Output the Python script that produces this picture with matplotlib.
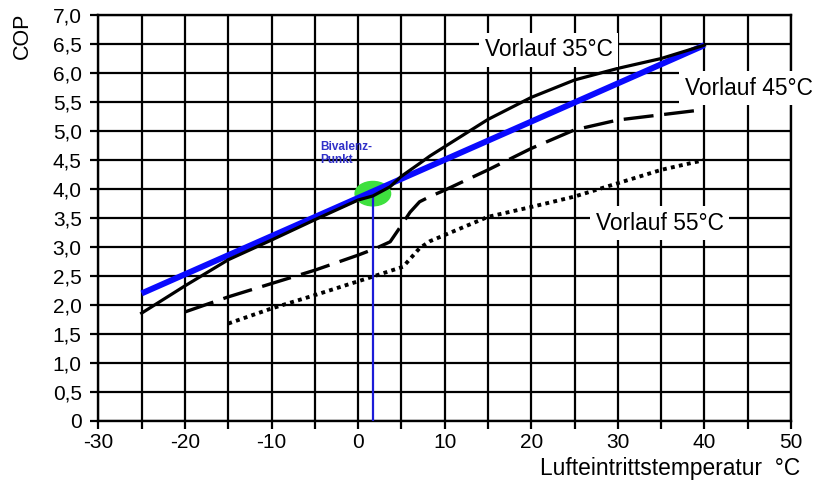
import numpy as np
import matplotlib
matplotlib.use("Agg")
import matplotlib.pyplot as plt
from matplotlib.patches import Ellipse
from matplotlib.ticker import MultipleLocator, FuncFormatter

plt.rcParams['font.family'] = ['Liberation Sans', 'DejaVu Sans']
plt.rcParams['axes.unicode_minus'] = False

# COP curves (air inlet temperature in degC)
t35 = [-25, -20, -15, -10, -5, 0, 1.7, 3.7, 5, 7, 8.3, 10, 15, 20, 25, 30, 35, 40]
cop35 = [1.86, 2.33, 2.78, 3.12, 3.47, 3.81, 3.88, 4.04, 4.22, 4.43, 4.57, 4.73,
         5.2, 5.58, 5.88, 6.08, 6.25, 6.48]

t45 = [-20, -15, -10, -5, 0, 2.1, 3.7, 4.8, 6, 7.1, 8.3, 10, 15, 20, 25, 30, 35, 40]
cop45 = [1.88, 2.14, 2.37, 2.6, 2.86, 2.98, 3.09, 3.33, 3.6, 3.78, 3.87, 3.98, 4.33,
         4.7, 5.02, 5.19, 5.28, 5.37]

t55 = [-15, -10, -5, 1.7, 5.2, 7.1, 8.3, 15, 20, 25, 30, 35, 40]
cop55 = [1.68, 1.94, 2.17, 2.49, 2.66, 2.98, 3.1, 3.52, 3.69, 3.87, 4.1, 4.33, 4.5]

# building heat demand line (blue) and bivalence point
demand_t = [-25, 40]
demand_cop = [2.2, 6.48]
biv_t, biv_cop = 1.7, 3.92

fig = plt.figure(figsize=(8.15, 4.83), dpi=100)
ax = fig.add_axes([0.1207, 0.1284, 0.8499, 0.8405])

ax.set_xlim(-30, 50)
ax.set_ylim(0, 7)
ax.xaxis.set_major_locator(MultipleLocator(10))
ax.xaxis.set_minor_locator(MultipleLocator(5))
ax.yaxis.set_major_locator(MultipleLocator(0.5))
ax.yaxis.set_major_formatter(FuncFormatter(
    lambda v, p: '0' if abs(v) < 1e-9 else ('%.1f' % v).replace('.', ',')))

ax.grid(which='both', color='black', linewidth=1.6)
ax.set_axisbelow(True)
for s in ax.spines.values():
    s.set_linewidth(1.7)
ax.tick_params(which='both', direction='out', length=6, width=1.6, labelsize=15)
ax.tick_params(axis='x', pad=3)
ax.tick_params(axis='y', pad=6)

# bivalence point marker
ax.add_patch(Ellipse((biv_t, biv_cop), 4.1, 0.42, color='#3ee03e', zorder=3))
ax.plot([biv_t, biv_t], [0, biv_cop - 0.05], color='#1c1cd8', lw=1.6, zorder=3)

ax.plot(demand_t, demand_cop, color='#0a0aff', lw=4.3, solid_capstyle='butt', zorder=4)

ax.plot(t35, cop35, color='black', lw=2.3, zorder=5)
ax.plot(t45, cop45, color='black', lw=2.4, dashes=(9, 3.2), zorder=5)
ax.plot(t55, cop55, color='black', lw=2.8, dashes=(1, 1.1), zorder=5)

box = dict(facecolor='white', edgecolor='none', pad=4)
ax.text(22.0, 6.40, 'Vorlauf 35°C', fontsize=16.4, ha='center', va='center',
        bbox=box, zorder=6)
ax.text(45.1, 5.74, 'Vorlauf 45°C', fontsize=16.4, ha='center', va='center',
        bbox=box, zorder=6, clip_on=False)
ax.text(34.85, 3.41, 'Vorlauf 55°C', fontsize=16.4, ha='center', va='center',
        bbox=box, zorder=6)

ax.text(-4.4, 4.82, 'Bivalenz-\nPunkt', fontsize=8.5, fontweight='bold',
        color='#3030c8', ha='left', va='top', linespacing=1.05, zorder=6)

fig.text(0.027, 0.925, 'COP', rotation=90, fontsize=15.5, ha='center', va='center')
fig.text(0.982, 0.031, 'Lufteintrittstemperatur  °C', fontsize=16.4, ha='right', va='center')

fig.savefig('out.png', dpi=100)
